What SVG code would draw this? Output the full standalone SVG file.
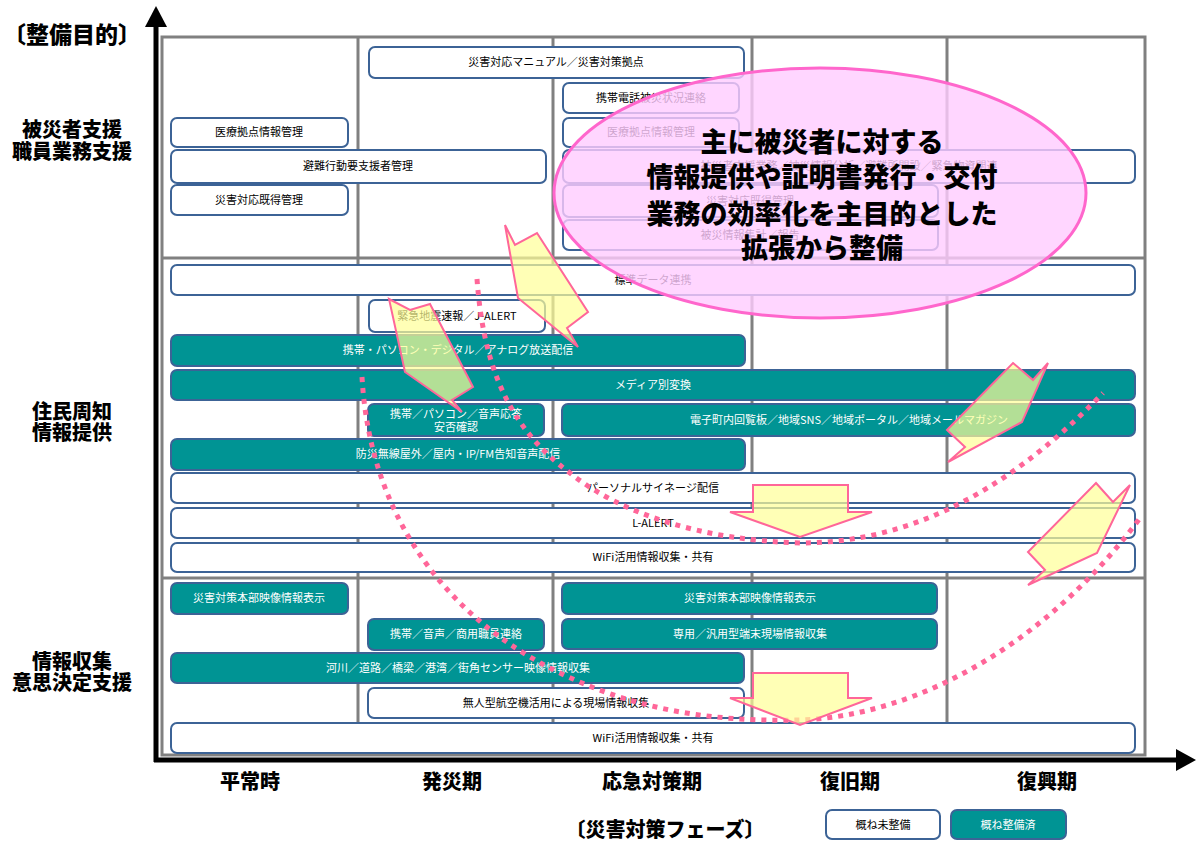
<svg xmlns="http://www.w3.org/2000/svg" width="1196" height="841" viewBox="0 0 1196 841">
<style>
.grid{fill:none;stroke:#808080;stroke-width:3}
.bw{fill:#ffffff;stroke:#3c6396;stroke-width:2}
.bt{fill:#009494;stroke:#3c6396;stroke-width:2}
.t{font-family:'Noto Sans CJK JP','Noto Sans',sans-serif;font-size:11px;text-anchor:middle;fill:#000}
.tw{font-family:'Noto Sans CJK JP','Noto Sans',sans-serif;font-size:11px;text-anchor:middle;fill:#fff}
.lab{font-family:'Noto Sans CJK JP',sans-serif;font-size:20px;font-weight:900;text-anchor:middle;fill:#000}
.big{font-family:'Noto Sans CJK JP',sans-serif;font-size:27px;font-weight:900;text-anchor:middle;fill:#000}
.ya{fill:#FFFF97;fill-opacity:0.7;stroke:#FF6699;stroke-width:2;stroke-linejoin:miter}
.dot{fill:none;stroke:#FF6699;stroke-width:5;stroke-dasharray:5 6}
</style>
<rect width="1196" height="841" fill="#ffffff"/>
<g id="grid">
<rect class="grid" x="162" y="37" width="983" height="718"/>
<line class="grid" x1="358" y1="37" x2="358" y2="755"/>
<line class="grid" x1="553" y1="37" x2="553" y2="755"/>
<line class="grid" x1="752" y1="37" x2="752" y2="755"/>
<line class="grid" x1="947" y1="37" x2="947" y2="755"/>
<line class="grid" x1="162" y1="258" x2="1145" y2="258"/>
<line class="grid" x1="162" y1="578" x2="1145" y2="578"/>
</g>
<g id="axes">
<line x1="156" y1="24" x2="156" y2="762" stroke="#000" stroke-width="5"/>
<polygon points="156,6 145,27 167,27" fill="#000"/>
<line x1="154" y1="760" x2="1180" y2="760" stroke="#000" stroke-width="5"/>
<polygon points="1196,760 1176,749 1176,771" fill="#000"/>
</g>
<g id="axis-labels">
<text class="lab" x="72" y="43" style="font-size:23px">〔整備目的〕</text>
<text class="lab" x="72" y="137">被災者支援</text>
<text class="lab" x="72" y="159">職員業務支援</text>
<text class="lab" x="72" y="419">住民周知</text>
<text class="lab" x="72" y="440">情報提供</text>
<text class="lab" x="72" y="669">情報収集</text>
<text class="lab" x="72" y="690">意思決定支援</text>
<text class="lab" x="250" y="789">平常時</text>
<text class="lab" x="452" y="789">発災期</text>
<text class="lab" x="652" y="789">応急対策期</text>
<text class="lab" x="850" y="789">復旧期</text>
<text class="lab" x="1047" y="789">復興期</text>
<text class="lab" x="665" y="837">〔災害対策フェーズ〕</text>
</g>
<g id="n1"><rect class="bw" x="369" y="47" width="375" height="31" rx="6"/><text class="t" x="556" y="66">災害対応マニュアル／災害対策拠点</text></g>
<g id="n2"><rect class="bw" x="563" y="83" width="176" height="30" rx="6"/><text class="t" x="651" y="102">携帯電話被災状況連絡</text></g>
<g id="n3"><rect class="bw" x="171" y="118" width="177" height="29" rx="6"/><text class="t" x="259" y="136">医療拠点情報管理</text></g>
<g id="n4"><rect class="bw" x="563" y="118" width="176" height="29" rx="6"/><text class="t" x="651" y="136">医療拠点情報管理</text></g>
<g id="n5"><rect class="bw" x="171" y="150" width="375" height="33" rx="6"/><text class="t" x="358" y="170">避難行動要支援者管理</text></g>
<g id="n6"><rect class="bw" x="563" y="150" width="572" height="33" rx="6"/><text class="t" x="849" y="170">被災者支援業務／被災情報分析／避難所開設／緊急物資関連</text></g>
<g id="n7"><rect class="bw" x="171" y="185" width="177" height="30" rx="6"/><text class="t" x="259" y="204">災害対応既得管理</text></g>
<g id="n8"><rect class="bw" x="563" y="185" width="375" height="32" rx="6"/><text class="t" x="750" y="205">災害対応既得管理</text></g>
<g id="n9"><rect class="bw" x="563" y="220" width="375" height="30" rx="6"/><text class="t" x="750" y="239">被災情報集計／報告</text></g>
<g id="n10"><rect class="bw" x="171" y="265" width="964" height="30" rx="6"/><text class="t" x="653" y="284">標準データ連携</text></g>
<g id="n11"><rect class="bw" x="369" y="300" width="176" height="32" rx="6"/><text class="t" x="457" y="320">緊急地震速報／J-ALERT</text></g>
<g id="n12"><rect class="bt" x="171" y="335" width="574" height="31" rx="6"/><text class="tw" x="458" y="354">携帯・パソコン・デジタル／アナログ放送配信</text></g>
<g id="n13"><rect class="bt" x="171" y="370" width="964" height="30" rx="6"/><text class="tw" x="653" y="389">メディア別変換</text></g>
<g id="n14"><rect class="bt" x="368" y="404" width="176" height="32" rx="6"/><text class="tw" x="456" y="418">携帯／パソコン／音声応答</text><text class="tw" x="456" y="431">安否確認</text></g>
<g id="n15"><rect class="bt" x="562" y="404" width="573" height="32" rx="6"/><text class="tw" x="849" y="424">電子町内回覧板／地域SNS／地域ポータル／地域メールマガジン</text></g>
<g id="n16"><rect class="bt" x="171" y="439" width="574" height="31" rx="6"/><text class="tw" x="458" y="458">防災無線屋外／屋内・IP/FM告知音声配信</text></g>
<g id="n17"><rect class="bw" x="171" y="473" width="964" height="30" rx="6"/><text class="t" x="653" y="492">パーソナルサイネージ配信</text></g>
<g id="n18"><rect class="bw" x="171" y="508" width="964" height="30" rx="6"/><text class="t" x="653" y="527">L-ALERT</text></g>
<g id="n19"><rect class="bw" x="171" y="543" width="964" height="29" rx="6"/><text class="t" x="653" y="561">WiFi活用情報収集・共有</text></g>
<g id="n20"><rect class="bt" x="171" y="583" width="177" height="31" rx="6"/><text class="tw" x="259" y="602">災害対策本部映像情報表示</text></g>
<g id="n21"><rect class="bt" x="562" y="583" width="375" height="31" rx="6"/><text class="tw" x="750" y="602">災害対策本部映像情報表示</text></g>
<g id="n22"><rect class="bt" x="368" y="619" width="176" height="31" rx="6"/><text class="tw" x="456" y="638">携帯／音声／商用職員連絡</text></g>
<g id="n23"><rect class="bt" x="562" y="619" width="375" height="30" rx="6"/><text class="tw" x="750" y="638">専用／汎用型端末現場情報収集</text></g>
<g id="n24"><rect class="bt" x="171" y="653" width="573" height="30" rx="6"/><text class="tw" x="458" y="672">河川／道路／橋梁／港湾／街角センサー映像情報収集</text></g>
<g id="n25"><rect class="bw" x="368" y="688" width="376" height="30" rx="6"/><text class="t" x="556" y="707">無人型航空機活用による現場情報収集</text></g>
<g id="n26"><rect class="bw" x="171" y="723" width="964" height="30" rx="6"/><text class="t" x="653" y="742">WiFi活用情報収集・共有</text></g>
<g id="connectors">
<path class="dot" d="M477,279 C483,360 505,425 570,473 C620,513 700,540 800,543 C900,543 1000,500 1103,393"/>
<path class="dot" d="M362,377 C370,520 450,620 560,673 C640,712 720,722 800,720 C920,716 1050,640 1140,518"/>
<polygon class="ya" points="505,225 515,245 537,233 588,312 567,328 578,347 518,298"/>
<polygon class="ya" points="389,299 410,310 430,304 473,387 452,400 462,412 405,372"/>
<polygon class="ya" points="1013,363 1033,380 1048,363 1022,422 948,462 965,447 947,430"/>
<polygon class="ya" points="1096,483 1113,502 1130,485 1097,553 1028,585 1045,570 1028,552"/>
<polygon class="ya" points="753,485 848,485 848,512 872,512 800,537 730,512 753,512"/>
<polygon class="ya" points="753,673 848,673 848,698 872,698 800,725 730,698 753,698"/>
</g>
<g id="callout">
<ellipse cx="820" cy="193" rx="266" ry="125" fill="#FFCCFF" fill-opacity="0.8" stroke="#FF66CC" stroke-width="3"/>
<text class="big" x="822" y="152">主に被災者に対する</text>
<text class="big" x="822" y="187">情報提供や証明書発行・交付</text>
<text class="big" x="822" y="224">業務の効率化を主目的とした</text>
<text class="big" x="822" y="258">拡張から整備</text>
</g>
<g id="legend">
<g id="leg1"><rect class="bw" x="826" y="810" width="114" height="29" rx="6"/><text class="t" x="883" y="829">概ね未整備</text></g>
<g id="leg2"><rect class="bt" x="951" y="810" width="115" height="29" rx="6"/><text class="tw" x="1008" y="829">概ね整備済</text></g>
</g>
</svg>
